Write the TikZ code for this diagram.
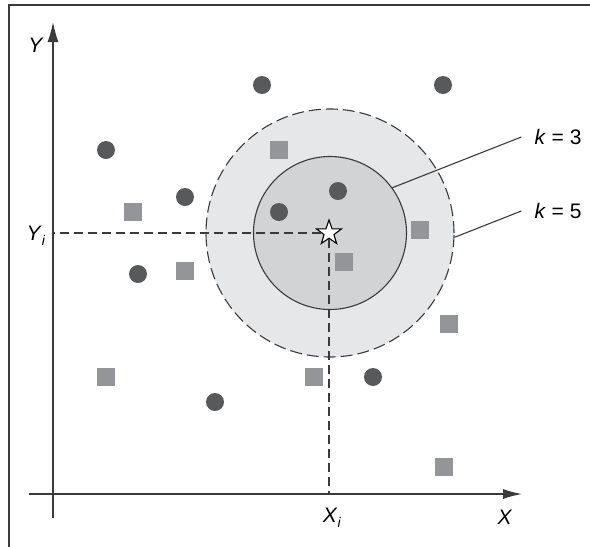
\documentclass[tikz,border=0pt]{standalone}
\usepackage{fontspec}
\setmainfont{Liberation Sans}
\usetikzlibrary{arrows.meta,shapes.geometric}
\definecolor{dotgray}{HTML}{58595B}
\definecolor{boxgray}{HTML}{939598}
\definecolor{ringgray}{HTML}{E6E7E8}
\definecolor{coregray}{HTML}{D1D3D4}
\definecolor{linegray}{HTML}{3A3A3C}
\newcommand{\vlab}[2]{\textit{#1}\raisebox{-0.45ex}{\fontsize{14}{14}\selectfont\textit{#2}}}
\tikzset{
  dot/.style={circle, fill=dotgray, inner sep=0pt, minimum size=18pt},
  box/.style={rectangle, fill=boxgray, inner sep=0pt, minimum size=18pt},
  guide/.style={linegray, line width=1.1pt, dash pattern=on 9pt off 5pt},
  lab/.style={font=\fontsize{21}{24}\selectfont, inner sep=0pt},
}

\begin{document}
\begin{tikzpicture}[x=1pt,y=-1pt]
  \useasboundingbox (0,0) rectangle (590,547);
  % frame
  \draw[linegray, line width=2pt] (9,547) -- (9,5) -- (590,5);
  % neighbourhoods
  \node[circle, guide, dash pattern=on 12pt off 5pt, fill=ringgray, draw=linegray, minimum size=248pt, inner sep=0pt] (outer) at (330,233) {};
  \node[circle, draw=linegray, line width=1.1pt, fill=coregray, minimum size=153pt, inner sep=0pt] (inner) at (330,233) {};
  % axes
  \coordinate (ytop) at (53,22);
  \coordinate (ybot) at (53,518);
  \coordinate (xleft) at (29,494);
  \coordinate (xright) at (522,494);
  \draw[linegray, line width=1.3pt, -{Latex[length=20pt,width=11pt]}] (ybot) -- (ytop);
  \draw[linegray, line width=1.3pt, -{Latex[length=19pt,width=10pt]}] (xleft) -- (xright);
  % samples
  \foreach \p [count=\i] in {(262,85),(443,85),(106,150),(185,197),(338,191),(279,212),(138,274),(373,377),(215,402)}
    \node[dot] (dot\i) at \p {};
  \foreach \p [count=\i] in {(279,150),(133,212),(420,230),(344,262),(185,271),(449,324),(106,377),(314,377),(444,467)}
    \node[box] (box\i) at \p {};
  % query point and its projections
  \node[star, star points=5, star point ratio=2.5, minimum size=26pt, inner sep=0pt, draw=black, fill=white, line width=1.1pt] (query) at (329,233) {};
  \draw[guide] (query) -- (query -| ytop);
  \draw[guide] (query) -- (query |- xleft);
  % labels
  \node[lab] (ylab) at (36,45) {\textit{Y}};
  \node[lab] (xlab) at (505,517) {\textit{X}};
  \node[lab] (xi) at (332,518) {\vlab{X}{i}};
  \node[lab] (yi) at (36,236) {\vlab{Y}{i}};
  \node[lab] (k3) at (558,137) {\textit{k} = 3};
  \node[lab] (k5) at (558,211) {\textit{k} = 5};
  \draw[linegray, line width=1.1pt] (inner.36) -- ([xshift=-13pt]k3.west);
  \draw[linegray, line width=1.1pt] (outer.-2) -- ([xshift=-13pt]k5.west);
\end{tikzpicture}
\end{document}
